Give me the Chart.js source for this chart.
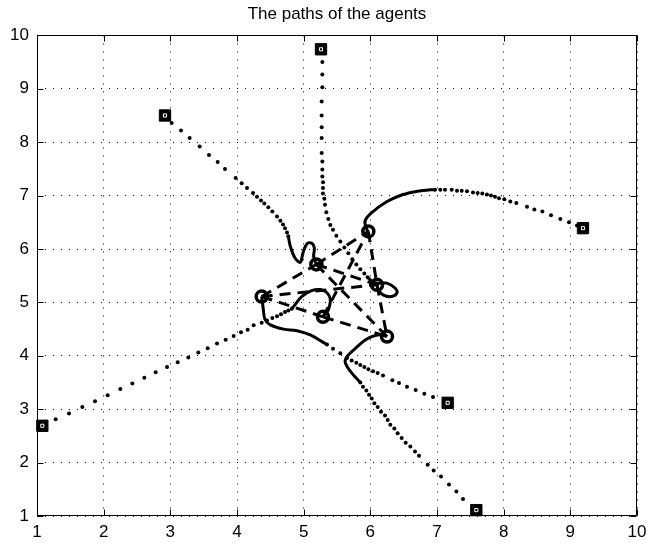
<!DOCTYPE html>
<html>
<head>
<meta charset="utf-8">
<script src="https://cdn.jsdelivr.net/npm/chart.js@4.4.0/dist/chart.umd.min.js"></script>
<style>
  html, body { margin: 0; padding: 0; background: #fff; }
</style>
</head>
<body>
<canvas id="myChart" width="654" height="543"></canvas>
<script>
// axis ticks
const xTicks = [1, 2, 3, 4, 5, 6, 7, 8, 9, 10];
const yTicks = [1, 2, 3, 4, 5, 6, 7, 8, 9, 10];

// where each agent starts (squares) and where it stops (circles)
const starts = [[1.08, 2.69], [2.92, 8.50], [5.26, 9.74], [9.19, 6.39], [7.16, 3.12], [7.59, 1.11]];
const finals = [[4.37, 5.11], [5.19, 5.71], [5.97, 6.33], [6.10, 5.33], [5.29, 4.73], [6.25, 4.36]];
// pairs of final positions joined by dashed lines
const edges = [[0, 1], [1, 2], [0, 3], [0, 4], [1, 3], [2, 3], [1, 5], [4, 2], [4, 5], [3, 5]];

// sampled positions (dotted part) and the slow final part (solid)
const agentADots = [[1.28, 2.81], [1.48, 2.92], [1.68, 3.04], [1.87, 3.15], [2.06, 3.26], [2.25, 3.38], [2.43, 3.48], [2.61, 3.59], [2.78, 3.69], [2.95, 3.79], [3.11, 3.88], [3.27, 3.97], [3.42, 4.06], [3.56, 4.14], [3.70, 4.23], [3.83, 4.30], [3.95, 4.37], [4.06, 4.44], [4.16, 4.49], [4.25, 4.57], [4.37, 4.62], [4.45, 4.66], [4.53, 4.71], [4.60, 4.74], [4.66, 4.78], [4.72, 4.82], [4.77, 4.85], [4.82, 4.88]];
const agentAPath = [[4.82, 4.88], [4.86, 4.94], [4.97, 5.11], [5.12, 5.22], [5.25, 5.24], [5.35, 5.18], [5.40, 5.05], [5.37, 4.86], [5.32, 4.77], [5.29, 4.73]];

const agentBDots = [[3.02, 8.36], [3.16, 8.22], [3.29, 8.08], [3.44, 7.92], [3.58, 7.76], [3.71, 7.63], [3.82, 7.50], [3.98, 7.33], [4.07, 7.23], [4.15, 7.14], [4.24, 7.05], [4.30, 6.98], [4.36, 6.91], [4.41, 6.85], [4.47, 6.78], [4.53, 6.70], [4.60, 6.61], [4.65, 6.53], [4.69, 6.46], [4.72, 6.39], [4.75, 6.31], [4.77, 6.24]];
const agentBPath = [[4.77, 6.24], [4.80, 6.05], [4.87, 5.83], [4.95, 5.75], [4.99, 5.93], [5.05, 6.10], [5.12, 6.11], [5.16, 6.02], [5.15, 5.86], [5.19, 5.71]];

const agentCDots = [[5.28, 9.50], [5.28, 9.27], [5.28, 9.03], [5.27, 8.76], [5.27, 8.50], [5.27, 8.28], [5.27, 8.08], [5.27, 7.80], [5.28, 7.64], [5.28, 7.49], [5.28, 7.36], [5.29, 7.25], [5.29, 7.14], [5.29, 7.04], [5.31, 6.94], [5.32, 6.83], [5.34, 6.69], [5.37, 6.56], [5.40, 6.45], [5.44, 6.36], [5.49, 6.25], [5.55, 6.14], [5.61, 6.03], [5.67, 5.92], [5.73, 5.81], [5.79, 5.71], [5.85, 5.62], [5.91, 5.54], [5.96, 5.47]];
const agentCPath = [[5.96, 5.47], [6.04, 5.38], [6.12, 5.36], [6.25, 5.36], [6.37, 5.27], [6.40, 5.18], [6.32, 5.11], [6.19, 5.14], [6.12, 5.24], [6.10, 5.33]];

const agentDDots = [[9.10, 6.44], [8.98, 6.50], [8.85, 6.56], [8.71, 6.63], [8.58, 6.70], [8.46, 6.74], [8.35, 6.79], [8.19, 6.86], [8.10, 6.89], [8.01, 6.93], [7.93, 6.95], [7.87, 6.98], [7.81, 7.00], [7.75, 7.02], [7.68, 7.04], [7.61, 7.05], [7.54, 7.06], [7.45, 7.08], [7.37, 7.09], [7.30, 7.09], [7.22, 7.11], [7.12, 7.11], [7.05, 7.11], [6.97, 7.11]];
const agentDPath = [[6.97, 7.11], [6.90, 7.11], [6.70, 7.08], [6.49, 7.02], [6.25, 6.89], [6.02, 6.68], [5.92, 6.52], [5.95, 6.36], [5.97, 6.33]];

const agentEDots = [[6.94, 3.23], [6.81, 3.29], [6.68, 3.36], [6.55, 3.42], [6.43, 3.49], [6.33, 3.54], [6.19, 3.63], [6.11, 3.68], [6.04, 3.71], [5.97, 3.75], [5.91, 3.79], [5.85, 3.83], [5.79, 3.87], [5.72, 3.91], [5.65, 3.96], [5.55, 4.05], [5.44, 4.13], [5.35, 4.21]];
const agentEPath = [[5.35, 4.21], [5.27, 4.27], [5.10, 4.39], [4.90, 4.47], [4.70, 4.50], [4.50, 4.58], [4.42, 4.68], [4.39, 4.92], [4.37, 5.11]];

const agentFDots = [[7.39, 1.32], [7.29, 1.46], [7.18, 1.59], [7.06, 1.74], [6.95, 1.85], [6.86, 1.96], [6.73, 2.13], [6.67, 2.21], [6.60, 2.30], [6.53, 2.37], [6.47, 2.46], [6.41, 2.55], [6.36, 2.64], [6.30, 2.71], [6.26, 2.80], [6.22, 2.88], [6.16, 2.95], [6.11, 3.04], [6.06, 3.11], [6.02, 3.20], [5.98, 3.27], [5.94, 3.35], [5.89, 3.42], [5.85, 3.50]];
const agentFPath = [[5.85, 3.50], [5.76, 3.62], [5.66, 3.78], [5.62, 3.90], [5.66, 4.00], [5.76, 4.12], [5.94, 4.31], [6.10, 4.39], [6.19, 4.39], [6.25, 4.36]];

const dotSets = [agentADots, agentBDots, agentCDots, agentDDots, agentEDots, agentFDots];
const pathSets = [agentAPath, agentBPath, agentCPath, agentDPath, agentEPath, agentFPath];

const FONT = '"Liberation Sans", Arial, Helvetica, sans-serif';
const toXY = (pts) => pts.map((p) => ({x: p[0], y: p[1]}));

const datasets = [];

// start squares with a small white mark inside
datasets.push({
    data: toXY(starts),
    pointStyle: 'rect',
    pointRadius: 8,
    backgroundColor: '#000',
    borderColor: '#000',
    borderWidth: 1,
    clip: false,
    order: 0
});
datasets.push({
    data: toXY(starts),
    pointStyle: 'rect',
    pointRadius: 2.2,
    backgroundColor: '#000',
    borderColor: '#fff',
    borderWidth: 1,
    clip: false,
    order: -1
});

// final positions
datasets.push({
    data: toXY(finals),
    pointStyle: 'circle',
    pointRadius: 5.5,
    backgroundColor: 'rgba(255,255,255,0)',
    borderColor: '#000',
    borderWidth: 3.5,
    order: 0
});

// dashed formation links
edges.forEach((e) => {
    datasets.push({
        data: toXY([finals[e[0]], finals[e[1]]]),
        showLine: true,
        borderColor: '#000',
        borderWidth: 3,
        borderDash: [11, 7],
        pointRadius: 0,
        order: 1
    });
});

// solid slow parts
pathSets.forEach((p) => {
    datasets.push({
        data: toXY(p),
        showLine: true,
        borderColor: '#000',
        borderWidth: 3,
        tension: 0.35,
        pointRadius: 0,
        order: 2
    });
});

// dotted fast parts
dotSets.forEach((d) => {
    datasets.push({
        data: toXY(d),
        pointStyle: 'circle',
        pointRadius: 2,
        backgroundColor: '#000',
        borderWidth: 0,
        order: 2
    });
});

// box round the axes with inward ticks on all four sides
const boxPlugin = {
    id: 'box',
    afterDraw(chart) {
        const {ctx, chartArea: a, scales} = chart;
        const L = Math.round(a.left) + 0.5, R = Math.round(a.right) - 0.5;
        const T = Math.round(a.top) + 0.5, B = Math.round(a.bottom) - 0.5;
        ctx.save();
        ctx.strokeStyle = '#000';
        ctx.lineWidth = 1;
        ctx.beginPath();
        ctx.rect(L, T, R - L, B - T);
        xTicks.forEach((v) => {
            const px = Math.round(scales.x.getPixelForValue(v)) + 0.5;
            ctx.moveTo(px, B); ctx.lineTo(px, B - 6);
            ctx.moveTo(px, T); ctx.lineTo(px, T + 6);
        });
        yTicks.forEach((v) => {
            const py = Math.round(scales.y.getPixelForValue(v)) + 0.5;
            ctx.moveTo(L, py); ctx.lineTo(L + 6, py);
            ctx.moveTo(R, py); ctx.lineTo(R - 6, py);
        });
        ctx.stroke();
        ctx.restore();
    }
};

const config = {
    type: 'scatter',
    data: {datasets},
    options: {
        responsive: false,
        animation: false,
        events: [],
        devicePixelRatio: 1,
        layout: {padding: {left: 0, right: 17, top: 0, bottom: 0}},
        plugins: {
            legend: {display: false},
            tooltip: {enabled: false},
            title: {
                display: true,
                text: 'The paths of the agents',
                color: '#000',
                fullSize: false,
                font: {family: FONT, size: 17, weight: 'normal'},
                padding: {top: 4, bottom: 11}
            }
        },
        scales: {
            x: {
                type: 'linear',
                min: 1,
                max: 10,
                afterBuildTicks: (s) => { s.ticks = xTicks.map((v) => ({value: v})); },
                afterFit: (s) => { s.height = 27; },
                ticks: {color: '#000', padding: 6, maxRotation: 0, font: {family: FONT, size: 17}},
                grid: {color: '#000', lineWidth: 1, drawTicks: false},
                border: {display: false, dash: [1, 7]}
            },
            y: {
                type: 'linear',
                min: 1,
                max: 10,
                afterBuildTicks: (s) => { s.ticks = yTicks.map((v) => ({value: v})); },
                afterFit: (s) => { s.width = 37; },
                ticks: {color: '#000', padding: 8, font: {family: FONT, size: 17}},
                grid: {color: '#000', lineWidth: 1, drawTicks: false},
                border: {display: false, dash: [1, 7]}
            }
        }
    },
    plugins: [boxPlugin]
};

let myChart = new Chart(document.getElementById('myChart'), config);
</script>
</body>
</html>
